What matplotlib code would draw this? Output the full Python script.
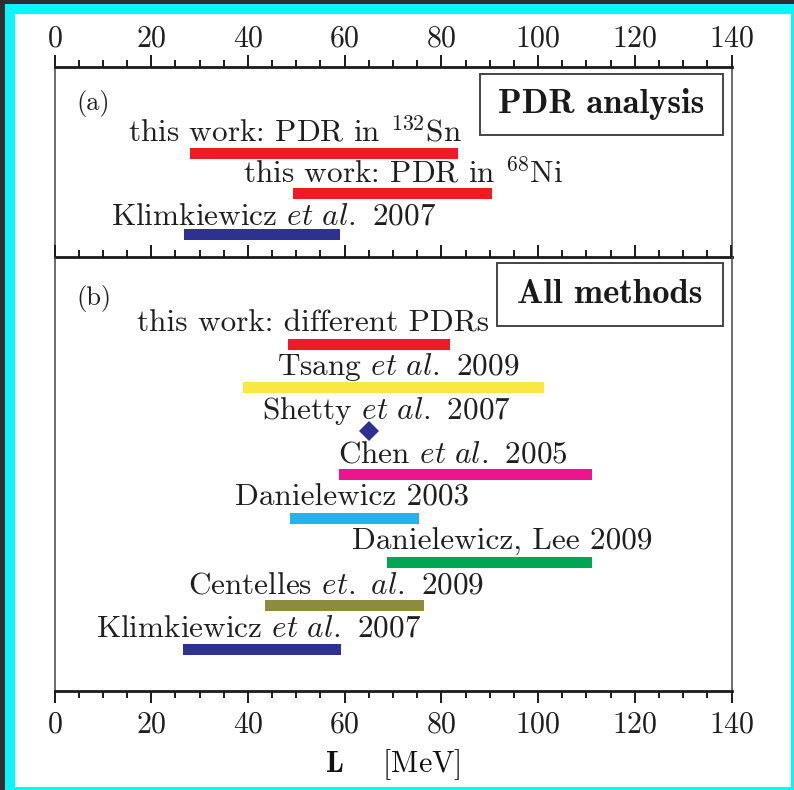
import matplotlib
matplotlib.use("Agg")
import matplotlib.pyplot as plt
from matplotlib.patches import Rectangle
from matplotlib.ticker import MultipleLocator

plt.rcParams["font.family"] = "serif"
plt.rcParams["font.serif"] = ["cmr10"]
plt.rcParams["mathtext.fontset"] = "cm"
plt.rcParams["axes.formatter.use_mathtext"] = True

# ---- data: ranges of the slope parameter L (MeV) ----
a_labels = [r"this work: PDR in $^{\mathrm{132}}$Sn",
            r"this work: PDR in $^{\mathrm{68}}$Ni",
            r"Klimkiewicz $\mathit{et\ al.}$ 2007"]
a_low = [28.0, 49.3, 26.8]
a_high = [83.4, 90.5, 59.0]
a_colors = ["#ec1c24", "#ec1c24", "#2e3192"]
a_label_x = [15.2, 39.0, 11.7]

b_labels = [r"this work: different PDRs",
            r"Tsang $\mathit{et\ al.}$ 2009",
            r"Shetty $\mathit{et\ al.}$ 2007",
            r"Chen $\mathit{et\ al.}$ 2005",
            r"Danielewicz 2003",
            r"Danielewicz, Lee 2009",
            r"Centelles $\mathit{et.\ al.}$ 2009",
            r"Klimkiewicz $\mathit{et\ al.}$ 2007"]
b_low = [48.2, 38.9, 65.0, 58.8, 48.8, 68.8, 43.6, 26.6]
b_high = [81.8, 101.3, 65.0, 111.2, 75.3, 111.2, 76.5, 59.2]
b_colors = ["#ec1c24", "#f9e841", "#2e3192", "#ec168c", "#22b5ec",
            "#00a651", "#8c8c3f", "#2e3192"]
b_label_x = [17.1, 46.0, 42.9, 58.6, 37.3, 61.5, 27.6, 8.6]

W, H = 794, 790
fig = plt.figure(figsize=(W / 100, H / 100), dpi=100, facecolor="#2c2e32")

def fx(px):
    return px / W

def fy(py):
    return 1 - py / H

# cyan frame and white page
fig.patches.append(Rectangle((fx(5), fy(790)), fx(794) - fx(5), fy(4) - fy(790),
                             transform=fig.transFigure, facecolor="#0af6fb",
                             edgecolor="none", zorder=-10))
fig.patches.append(Rectangle((fx(15), fy(787)), fx(791) - fx(15), fy(14) - fy(787),
                             transform=fig.transFigure, facecolor="white",
                             edgecolor="none", zorder=-9))

x_left, x_right = 54.5, 731.5
y_top, y_mid, y_bot = 67, 257, 691
ax_a = fig.add_axes([fx(x_left), fy(y_mid), fx(x_right) - fx(x_left), fy(y_top) - fy(y_mid)])
ax_b = fig.add_axes([fx(x_left), fy(y_bot), fx(x_right) - fx(x_left), fy(y_mid) - fy(y_bot)])

txt_color = "#1f1f1f"
spine_color = "#444444"
tick_fs = 21.5
lab_fs = 22.5
axis_color = "#1a1a1a"

for ax, height in ((ax_a, y_mid - y_top), (ax_b, y_bot - y_mid)):
    ax.set_xlim(0, 140)
    ax.set_ylim(height, 0)          # pixel-like units, top row first
    ax.set_facecolor("none")
    ax.set_yticks([])
    ax.xaxis.set_major_locator(MultipleLocator(20))
    ax.xaxis.set_minor_locator(MultipleLocator(5))
    for s in ("left", "right"):
        ax.spines[s].set_linewidth(1.1)
        ax.spines[s].set_color(spine_color)

# inward ticks along the divider between the panels
ax_div = ax_a.twiny()
ax_div.set_xlim(0, 140)
ax_div.xaxis.set_major_locator(MultipleLocator(20))
ax_div.xaxis.set_minor_locator(MultipleLocator(5))
ax_div.xaxis.set_ticks_position("bottom")
ax_div.tick_params(axis="x", which="both", direction="in", width=1.4,
                   color=axis_color, bottom=True, top=False,
                   labelbottom=False, labeltop=False)
ax_div.tick_params(axis="x", which="major", length=8.5)
ax_div.tick_params(axis="x", which="minor", length=5)
for s in ax_div.spines.values():
    s.set_visible(False)

# top panel: outward ticks with labels above the frame
ax_a.xaxis.set_ticks_position("top")
ax_a.xaxis.set_label_position("top")
ax_a.spines["top"].set_linewidth(2.0)
ax_a.spines["bottom"].set_linewidth(2.0)
ax_a.spines["top"].set_color(axis_color)
ax_a.spines["bottom"].set_color(axis_color)
ax_a.tick_params(axis="x", which="both", top=True, bottom=False,
                 labeltop=True, labelbottom=False, direction="out",
                 width=1.4, color=axis_color, labelsize=tick_fs,
                 labelcolor=txt_color, pad=2)
ax_a.tick_params(axis="x", which="major", length=8.5)
ax_a.tick_params(axis="x", which="minor", length=5)

# bottom panel axis styling
ax_b.spines["top"].set_visible(False)
ax_b.spines["bottom"].set_linewidth(2.0)
ax_b.spines["bottom"].set_color(axis_color)
ax_b.tick_params(axis="x", which="both", top=False, bottom=True,
                 direction="out", width=1.4, color=axis_color,
                 labelsize=tick_fs, labelcolor=txt_color, pad=6)
ax_b.tick_params(axis="x", which="major", length=8.5)
ax_b.tick_params(axis="x", which="minor", length=5)

ax_b.set_xlabel(r"$\mathbf{L}$    [MeV]", fontsize=tick_fs, color="#111111", labelpad=6)

bar_h = 11

# panel (a)
a_first, a_step = 86, 40.8
for i, (lab, lo, hi, c, lx) in enumerate(zip(a_labels, a_low, a_high, a_colors, a_label_x)):
    y = a_first + i * a_step
    ax_a.barh(y, hi - lo, left=lo, height=bar_h, color=c, edgecolor="none")
    ax_a.text(lx, y - 10.5, lab, fontsize=lab_fs, color=txt_color, va="baseline", ha="left")

# panel (b)
b_first, b_step = 87, 43.6
for i, (lab, lo, hi, c, lx) in enumerate(zip(b_labels, b_low, b_high, b_colors, b_label_x)):
    y = b_first + i * b_step
    if hi - lo < 1e-9:
        ax_b.plot([lo], [y], marker="D", markersize=10, color=c, markeredgewidth=0)
    else:
        ax_b.barh(y, hi - lo, left=lo, height=bar_h, color=c, edgecolor="none")
    ax_b.text(lx, y - 12.5, lab, fontsize=lab_fs, color=txt_color, va="baseline", ha="left")

# panel tags
fig.text(fx(76), fy(110), "(a)", fontsize=19, color=txt_color, va="baseline")
fig.text(fx(76), fy(305), "(b)", fontsize=19, color=txt_color, va="baseline")

# titled boxes
def boxed(x0, y0, x1, y1, title, size):
    fig.patches.append(Rectangle((fx(x0), fy(y1)), fx(x1) - fx(x0), fy(y0) - fy(y1),
                                 transform=fig.transFigure, facecolor="white",
                                 edgecolor="#444444", linewidth=1.4, zorder=3))
    fig.text(fx((x0 + x1) / 2), fy((y0 + y1) / 2), title, fontsize=size,
             fontfamily="cmb10", color="#1a1a1a", ha="center", va="center", zorder=4)

boxed(480, 74, 723, 135, "PDR analysis", 25)
boxed(497, 263, 723, 326, "All methods", 25)

fig.savefig("out.png", dpi=100, facecolor=fig.get_facecolor())
